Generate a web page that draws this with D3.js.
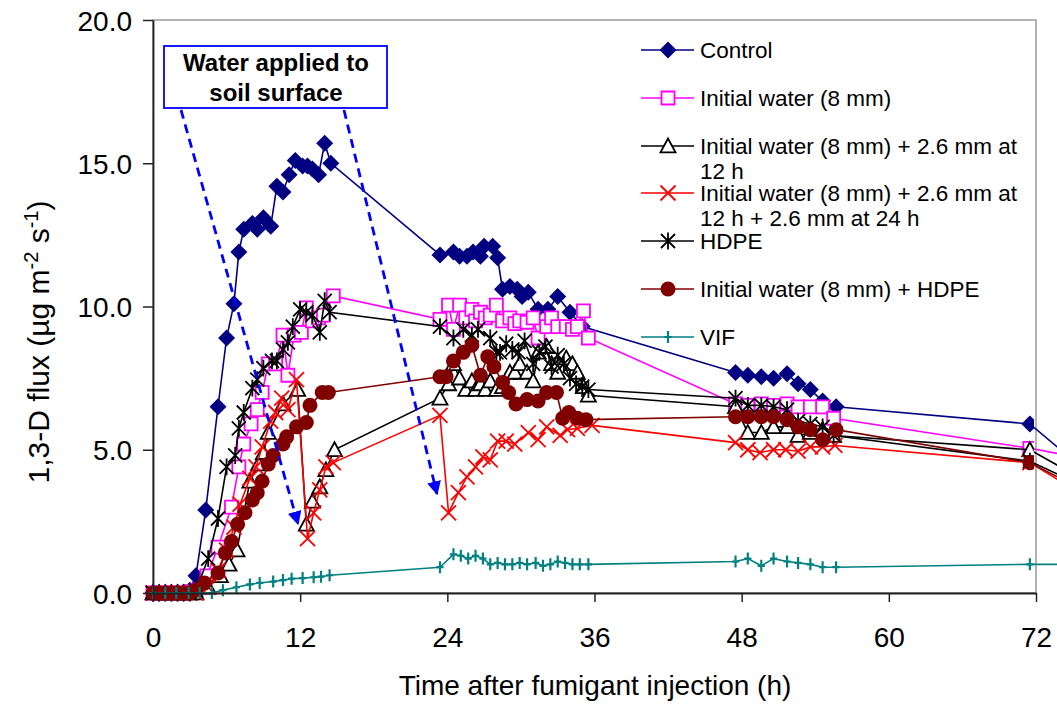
<!DOCTYPE html>
<html><head><meta charset="utf-8">
<script src="https://cdn.jsdelivr.net/npm/d3@7"></script>
<style>
body{margin:0;background:#fff}
svg{display:block}
text{font-family:"Liberation Sans",Arial,Helvetica,sans-serif;fill:#000}
</style>
</head><body>
<svg id="chart" width="1057" height="706"></svg>
<script>
// ---------- DATA ----------
const xTicks = [0, 12, 24, 36, 48, 60, 72];
const yTicks = [0, 5, 10, 15, 20];

const controlT = [0,0.5,1,1.5,2,2.5,3,3.5,4.3,5.3,6.0,6.6,7.0,7.4,8.1,8.5,9.0,9.6,10.1,10.6,11.1,11.6,12.2,12.6,13.0,13.5,14.0,14.5,
  23.4,24.5,25.0,25.6,26.1,26.7,27.0,27.7,28.1,28.5,29.1,29.7,30.1,30.6,31.4,32.2,33.0,34.0,35.0,
  47.5,48.5,49.6,50.6,51.7,52.6,53.6,54.6,55.7,71.5,74];
const controlV = [0,0,0,0,0,0,0.1,0.6,2.9,6.5,8.9,10.1,11.9,12.7,12.9,12.7,13.1,12.8,14.2,14.0,14.6,15.1,14.9,14.9,14.8,14.6,15.7,15.0,
  11.8,11.9,11.75,11.75,11.9,11.75,12.1,12.1,11.7,10.6,10.7,10.6,10.35,10.5,9.9,9.9,10.35,9.8,9.3,
  7.7,7.6,7.55,7.5,7.65,7.3,7.1,6.7,6.5,5.9,5.0];

const waterT = [0,0.5,1,1.5,2,2.5,3,3.5,4.4,5.3,6.4,7.0,7.4,8.0,8.5,8.9,9.4,10.0,10.6,11.0,11.5,12.1,12.5,13.0,13.5,13.9,14.7,
  23.4,24.1,24.5,25.0,25.5,26.0,26.3,26.7,27.1,27.5,28.0,28.5,29.1,29.5,29.9,30.5,31.0,31.4,32.1,32.5,33.0,33.7,34.2,34.6,35.1,35.5,
  47.5,48.5,49.6,50.6,51.7,52.6,53.6,54.6,55.5,71.5,74];
const waterV = [0,0,0,0,0,0,0.05,0.1,0.6,1.6,3.0,4.4,5.2,5.9,6.4,7.0,8.0,8.0,9.0,7.6,9.0,9.1,9.95,9.5,9.6,9.7,10.37,
  9.55,10.05,9.2,10.05,9.6,9.9,9.5,9.8,9.6,9.7,10.05,9.5,9.6,9.4,9.5,9.45,9.6,8.9,9.3,9.6,9.3,9.3,9.2,9.3,9.85,8.9,
  6.6,6.55,6.6,6.55,6.6,6.5,6.5,6.5,6.1,5.05,4.85];

const water12T = [0,0.5,1,1.5,2,2.5,3,3.5,4.5,5.5,6.2,6.85,7.9,8.6,9.0,9.4,10.6,11.8,12.5,13.0,13.6,14.1,14.8,
  23.4,24.1,24.5,25.0,25.5,26.0,26.3,26.7,27.1,27.5,28.0,28.5,29.1,29.5,29.9,30.5,31.0,31.4,32.1,32.5,33.0,33.7,34.2,34.6,35.1,35.5,
  47.5,48.5,49.6,50.6,51.7,52.6,53.6,54.6,55.5,71.5,74];
const water12V = [0,0,0,0,0,0,0,0,0.2,0.6,1.0,1.5,3.9,4.5,4.9,5.6,6.6,7.1,2.4,3.2,3.7,4.3,5.0,
  6.8,7.3,8.0,7.5,7.1,7.4,7.1,7.3,7.1,7.4,7.1,7.2,7.7,7.7,8.0,7.7,7.4,8.4,8.6,8.0,7.7,8.2,8.0,7.7,7.2,6.9,
  6.5,5.6,5.6,5.8,5.8,5.5,5.6,5.7,5.5,5.0,4.4];

const water1224T = [0,0.5,1,1.5,2,2.5,3,3.5,4.5,5.3,6.0,6.6,7.1,7.9,8.4,8.9,9.6,10.0,10.5,11.0,11.7,12.6,13.1,13.6,14.1,14.7,
  23.4,24.1,24.9,25.6,26.3,26.9,27.5,28.1,28.8,29.5,30.6,31.4,32.1,33.2,33.8,34.6,35.8,
  47.5,48.5,49.5,50.6,51.6,52.6,53.6,54.6,55.6,71.5,74];
const water1224V = [0,0,0,0,0,0,0,0,0.2,0.8,1.5,2.3,3.1,4.0,4.4,5.1,6.0,6.3,6.8,6.4,7.45,1.9,2.8,3.6,4.4,4.55,
  6.2,2.8,3.5,4.05,4.4,4.75,4.65,5.3,5.3,5.2,5.6,5.35,5.8,5.5,5.7,5.75,5.85,
  5.25,5.0,4.9,5.0,5.0,4.95,5.1,5.1,5.15,4.55,3.9];

const hdpeT = [0,0.5,1,1.5,2,2.5,3,3.5,4.5,5.3,6.0,6.7,7.0,7.4,8.1,8.5,9.0,9.7,10.1,10.6,11.0,11.4,12.0,12.5,13.0,13.6,14.0,14.4,
  23.4,24.5,25.3,26.0,26.5,27.5,28.0,28.3,28.8,29.3,29.8,30.3,31.0,31.5,32.0,32.5,33.0,33.5,34.0,34.5,35.0,35.5,
  47.5,48.5,49.6,50.6,51.7,52.6,53.6,54.6,55.5,71.5,74];
const hdpeV = [0,0,0,0,0,0,0,0.1,1.2,2.6,4.4,4.8,5.75,6.3,7.15,7.45,7.85,8.1,8.1,8.5,8.75,9.3,9.9,9.8,9.7,9.1,10.2,9.8,
  9.3,8.9,9.2,9.0,9.2,8.9,8.4,8.4,8.7,8.5,8.4,8.8,8.0,8.4,8.6,7.9,8.3,8.0,7.5,7.3,7.2,7.1,
  6.8,6.55,6.55,6.5,6.4,6.0,5.9,5.8,5.5,4.6,4.1];

const waterHdpeT = [0,0.5,1,1.5,2,2.5,3,3.5,4.2,5.3,5.9,6.4,6.9,7.5,8.1,8.5,8.9,9.4,9.8,10.6,10.9,11.7,12.5,12.8,13.8,14.3,
  23.4,23.9,24.5,25.3,26.0,26.7,27.3,27.8,28.5,29.0,29.6,30.5,31.4,32.1,32.9,33.4,33.9,34.6,35.3,
  47.5,48.5,49.6,50.6,51.7,52.6,53.6,54.6,55.7,71.5,74];
const waterHdpeV = [0,0,0,0,0,0,0,0.1,0.35,0.7,1.4,1.8,2.4,2.8,3.25,3.5,3.9,4.5,4.8,5.2,5.45,5.8,5.95,6.55,7.0,7.0,
  7.55,7.55,8.1,8.4,8.65,7.6,8.25,7.9,7.35,7.0,6.6,6.75,6.7,7.0,7.0,6.1,6.3,6.1,6.05,
  6.15,6.15,6.15,6.15,6.05,5.8,5.7,5.35,5.7,4.55,4.0];

const vifT = [0,1.0,1.9,2.9,3.8,4.8,5.7,6.8,7.9,8.7,9.8,10.6,11.3,12.2,13.1,13.7,14.4,
  23.4,24.5,25.1,25.7,26.3,26.9,27.5,28.1,28.7,29.3,29.9,30.5,31.2,31.8,32.4,33.0,33.6,34.2,34.8,35.5,
  47.5,48.5,49.6,50.6,51.7,52.6,53.6,54.6,55.7,71.5,74];
const vifV = [0,0,0,0,0,0,0.1,0.2,0.3,0.35,0.4,0.45,0.5,0.52,0.55,0.57,0.62,
  0.9,1.35,1.3,1.2,1.3,1.2,1.0,1.05,1.0,1.0,1.05,1.0,1.05,0.95,1.0,1.1,1.05,1.0,1.0,1.0,
  1.1,1.2,0.95,1.2,1.1,1.05,1.0,0.9,0.9,1.0,1.0];

const seriesNames = ["Control","Initial water (8 mm)","Initial water (8 mm) + 2.6 mm at|12 h",
  "Initial water (8 mm) + 2.6 mm at|12 h + 2.6 mm at 24 h","HDPE","Initial water (8 mm) + HDPE","VIF"];
const seriesColors = ["#000080","#FF00FF","#000000","#FF0000","#000000","#800000","#008080"];
const seriesMarkers = ["diamond","square","triangle","x","star","circle","plus"];
const seriesT = [controlT, waterT, water12T, water1224T, hdpeT, waterHdpeT, vifT];
const seriesV = [controlV, waterV, water12V, water1224V, hdpeV, waterHdpeV, vifV];

const annotationLines = ["Water applied to", "soil surface"];

// ---------- CHART ----------
const svg = d3.select("#chart");
const W = 1057, H = 706;
const x = d3.scaleLinear().domain([0, 72]).range([153, 1036]);
const y = d3.scaleLinear().domain([0, 20]).range([593, 20]);

// plot area border
svg.append("rect").attr("x", x(0)).attr("y", y(20)).attr("width", x(72) - x(0)).attr("height", y(0) - y(20))
  .attr("fill", "none").attr("stroke", "#9a9a9a").attr("stroke-width", 1.5);

function markerPath(type, s) {
  switch (type) {
    case "diamond": return `M0,${-s}L${s},0L0,${s}L${-s},0Z`;
    case "square": return `M${-s},${-s}H${s}V${s}H${-s}Z`;
    case "triangle": return `M0,${-s}L${s},${s*0.85}L${-s},${s*0.85}Z`;
    case "x": return `M${-s},${-s}L${s},${s}M${-s},${s}L${s},${-s}`;
    case "star": return `M${-s},${-s}L${s},${s}M${-s},${s}L${s},${-s}M0,${-s*1.2}V${s*1.2}`;
    case "plus": return `M0,${-s}V${s}M${-s*0.6},0H${s*0.6}`;
  }
}
const markerSize = {diamond: 8.5, square: 6.5, triangle: 7.5, x: 7.5, star: 7, plus: 6, circle: 7.5};

function drawMarker(g, type, color) {
  if (type === "circle") {
    g.append("circle").attr("r", markerSize.circle).attr("fill", color);
  } else {
    const p = g.append("path").attr("d", markerPath(type, markerSize[type]));
    if (type === "diamond") p.attr("fill", color);
    else if (type === "square" || type === "triangle") p.attr("fill", "#fff").attr("stroke", color).attr("stroke-width", 1.8);
    else p.attr("fill", "none").attr("stroke", color).attr("stroke-width", type === "plus" ? 2.2 : 1.8);
  }
}

svg.append("clipPath").attr("id", "mclip").append("rect")
  .attr("x", x(0) - 12).attr("y", 0).attr("width", x(72) - x(0) + 10).attr("height", H);

const line = d3.line().x(d => x(d.t)).y(d => y(d.v));
seriesNames.forEach((name, i) => {
  const pts = seriesT[i].map((t, j) => ({t, v: seriesV[i][j]}));
  const g = svg.append("g");
  g.append("path").attr("d", line(pts)).attr("fill", "none")
    .attr("stroke", seriesColors[i]).attr("stroke-width", 1.6);
  const mg = g.append("g").attr("clip-path", "url(#mclip)");
  pts.forEach(p => {
    const m = mg.append("g").attr("transform", `translate(${x(p.t)},${y(p.v)})`);
    drawMarker(m, seriesMarkers[i], seriesColors[i]);
  });
});

// axes
const xAxis = svg.append("g").attr("transform", `translate(0,${y(0)})`)
  .call(d3.axisBottom(x).tickValues(xTicks).tickFormat(d3.format("d")).tickSize(9).tickSizeOuter(0).tickPadding(25));
const yAxis = svg.append("g").attr("transform", `translate(${x(0)},0)`)
  .call(d3.axisLeft(y).tickValues(yTicks).tickFormat(d3.format(".1f")).tickSize(10).tickSizeOuter(0).tickPadding(11));
[xAxis, yAxis].forEach(a => {
  a.select(".domain").attr("stroke", "#222").attr("stroke-width", 1.8);
  a.selectAll(".tick line").attr("stroke", "#222").attr("stroke-width", 1.5);
  a.selectAll("text").attr("font-size", 28).attr("font-family", "Liberation Sans, Arial, sans-serif").attr("fill", "#000");
});
yAxis.selectAll("text").attr("dy", "0.36em");

// axis titles
svg.append("text").attr("x", 595).attr("y", 695).attr("text-anchor", "middle").attr("font-size", 28)
  .text("Time after fumigant injection (h)");
const yt = svg.append("text").attr("transform", "translate(49,342) rotate(-90)").attr("text-anchor", "middle").attr("font-size", 30);
yt.append("tspan").text("1,3-D flux (µg m");
yt.append("tspan").attr("dy", -11).attr("font-size", 20).text("-2");
yt.append("tspan").attr("dy", 11).text(" s");
yt.append("tspan").attr("dy", -11).attr("font-size", 20).text("-1");
yt.append("tspan").attr("dy", 11).text(")");

// legend
const legendY = [50, 98, 146, 193, 241, 289, 337];
const lg = svg.append("g");
seriesNames.forEach((name, i) => {
  const g = lg.append("g").attr("transform", `translate(0,${legendY[i]})`);
  g.append("line").attr("x1", 641).attr("x2", 694).attr("stroke", seriesColors[i]).attr("stroke-width", 1.6);
  const m = g.append("g").attr("transform", "translate(668,0)");
  drawMarker(m, seriesMarkers[i], seriesColors[i]);
  name.split("|").forEach((ln, k) => {
    g.append("text").attr("x", 700).attr("y", 8 + k * 25).attr("font-size", 22.5).text(ln);
  });
});

// annotation
svg.append("rect").attr("x", 164).attr("y", 46).attr("width", 223).attr("height", 62)
  .attr("fill", "#fff").attr("stroke", "#0000FF").attr("stroke-width", 1.8);
annotationLines.forEach((t, k) => {
  svg.append("text").attr("x", 276).attr("y", 71 + k * 30).attr("text-anchor", "middle")
    .attr("font-size", 24).attr("font-weight", "bold").text(t);
});
svg.append("defs").append("marker").attr("id", "ah").attr("viewBox", "0 0 10 10").attr("refX", 9).attr("refY", 5)
  .attr("markerWidth", 5).attr("markerHeight", 5).attr("orient", "auto")
  .append("path").attr("d", "M0,0L10,5L0,10Z").attr("fill", "#0000FF");
const arrows = [[[181, 110], [298, 524]], [[344, 110], [437, 494]]];
arrows.forEach(a => {
  svg.append("line").attr("x1", a[0][0]).attr("y1", a[0][1]).attr("x2", a[1][0]).attr("y2", a[1][1])
    .attr("stroke", "#0000FF").attr("stroke-width", 2.8).attr("stroke-dasharray", "9,6").attr("marker-end", "url(#ah)");
});
</script>
</body></html>
